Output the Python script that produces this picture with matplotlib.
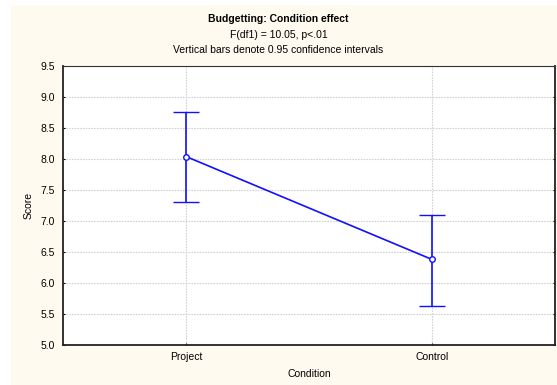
import numpy as np
import matplotlib.pyplot as plt
from matplotlib.patches import Rectangle

plt.rcParams['font.family'] = ['Liberation Sans', 'DejaVu Sans']

# data
conditions = ['Project', 'Control']
means = [8.04, 6.38]
ci_low = [7.30, 5.63]
ci_high = [8.76, 7.10]

x = np.arange(len(conditions))
means = np.array(means)
yerr = [means - np.array(ci_low), np.array(ci_high) - means]

fig = plt.figure(figsize=(5.57, 3.85), dpi=100)
fig.patch.set_facecolor('white')
# cream panel behind the plot
fig.patches.append(Rectangle((11 / 557, 0), 1, 1 - 5 / 385, transform=fig.transFigure,
                             facecolor='#fffaef', edgecolor='none', zorder=-10))

ax = fig.add_axes([63 / 557, 1 - 345 / 385, (555 - 63) / 557, (345 - 66) / 385])
ax.set_facecolor('white')

ax.errorbar(x, means, yerr=yerr, color='#1010ff', lw=1.2, capsize=9.5, capthick=1.2,
            marker='o', ms=4, mfc='white', mec='#1010ff', mew=1, zorder=3)

ax.set_xlim(-0.5, 1.5)
ax.set_ylim(5.0, 9.5)
ax.set_xticks(x)
ax.set_xticklabels(conditions)
ax.set_yticks(np.arange(5.0, 9.51, 0.5))
ax.set_yticklabels(['%.1f' % v for v in np.arange(5.0, 9.51, 0.5)])
ax.grid(True, color='#d2d2d2', ls=(0, (1.5, 1)), lw=0.8)
ax.tick_params(axis='both', direction='in', length=1.5, labelsize=7.5, pad=6,
               right=True, color='black')
ax.tick_params(axis='x', pad=5)

for side in ['left', 'bottom', 'right']:
    ax.spines[side].set_linewidth(1.3)
    ax.spines[side].set_color('#222222')
ax.spines['top'].set_linewidth(0.8)
ax.spines['top'].set_color('#333333')

ax.set_xlabel('Condition', fontsize=7.5, labelpad=5)
ax.set_ylabel('Score', fontsize=7.5, labelpad=5)

fig.text(0.5, 1 - 19 / 385, 'Budgetting: Condition effect', ha='center', va='center',
         fontsize=7.5, fontweight='bold')
fig.text(0.5, 1 - 35 / 385, 'F(df1) = 10.05, p<.01', ha='center', va='center', fontsize=7.5)
fig.text(0.5, 1 - 50 / 385, 'Vertical bars denote 0.95 confidence intervals', ha='center',
         va='center', fontsize=7.5)

fig.savefig('out.png', dpi=100, facecolor=fig.get_facecolor())
